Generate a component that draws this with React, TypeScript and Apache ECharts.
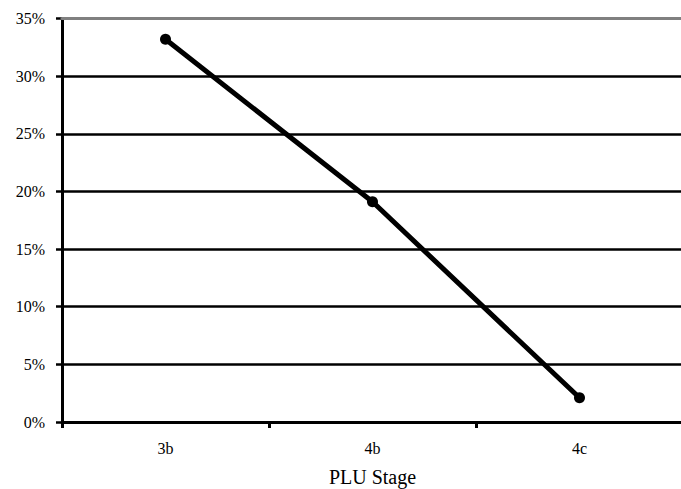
import React, { useEffect, useRef } from "react";
import * as echarts from "echarts";

const stages = ["3b", "4b", "4c"];
const shares = [33.2, 19.1, 2.1];
const yTicks = [0, 5, 10, 15, 20, 25, 30, 35];

const FONT = "Liberation Serif";

export default function App() {
  const ref = useRef<HTMLDivElement>(null);

  useEffect(() => {
    if (!ref.current) return;
    const chart = echarts.init(ref.current, undefined, { renderer: "svg" });
    chart.setOption({
      animation: false,
      backgroundColor: "#ffffff",
      textStyle: { fontFamily: FONT },
      grid: {
        left: 62,
        top: 18.5,
        width: 621,
        height: 403.5,
        containLabel: false,
        outerBoundsMode: "none",
      },
      xAxis: [
        {
          type: "category",
          data: stages,
          boundaryGap: true,
          name: "PLU Stage",
          nameLocation: "middle",
          nameGap: 45,
          nameTextStyle: { fontFamily: FONT, fontSize: 20, color: "#000" },
          axisLine: { lineStyle: { color: "#000", width: 3 } },
          axisTick: { show: true, length: 6, alignWithLabel: false, lineStyle: { color: "#000", width: 3 } },
          axisLabel: { fontFamily: FONT, fontSize: 16, color: "#000", margin: 18 },
          splitLine: { show: false },
          z: 2,
        },
        {
          type: "category",
          data: stages,
          position: "top",
          axisLine: { lineStyle: { color: "#808080", width: 3 } },
          axisTick: { show: false },
          axisLabel: { show: false },
          splitLine: { show: false },
          z: 3,
        },
      ],
      yAxis: {
        type: "value",
        min: yTicks[0],
        max: yTicks[yTicks.length - 1],
        interval: 5,
        axisLine: { show: true, lineStyle: { color: "#000", width: 3 } },
        axisTick: { show: true, length: 6, lineStyle: { color: "#000", width: 2.5 } },
        axisLabel: {
          fontFamily: FONT,
          fontSize: 16,
          color: "#000",
          margin: 17,
          formatter: (v: number) => `${v}%`,
        },
        splitLine: { show: true, lineStyle: { color: "#000", width: 2.5 } },
      },
      series: [
        {
          type: "line",
          data: shares,
          xAxisIndex: 0,
          symbol: "circle",
          symbolSize: 11,
          lineStyle: { color: "#000", width: 5 },
          itemStyle: { color: "#000" },
          z: 5,
        },
      ],
    });
    return () => chart.dispose();
  }, []);

  return (
    <div
      ref={ref}
      style={{ position: "absolute", left: 0, top: 0, width: 681, height: 489 }}
    />
  );
}
